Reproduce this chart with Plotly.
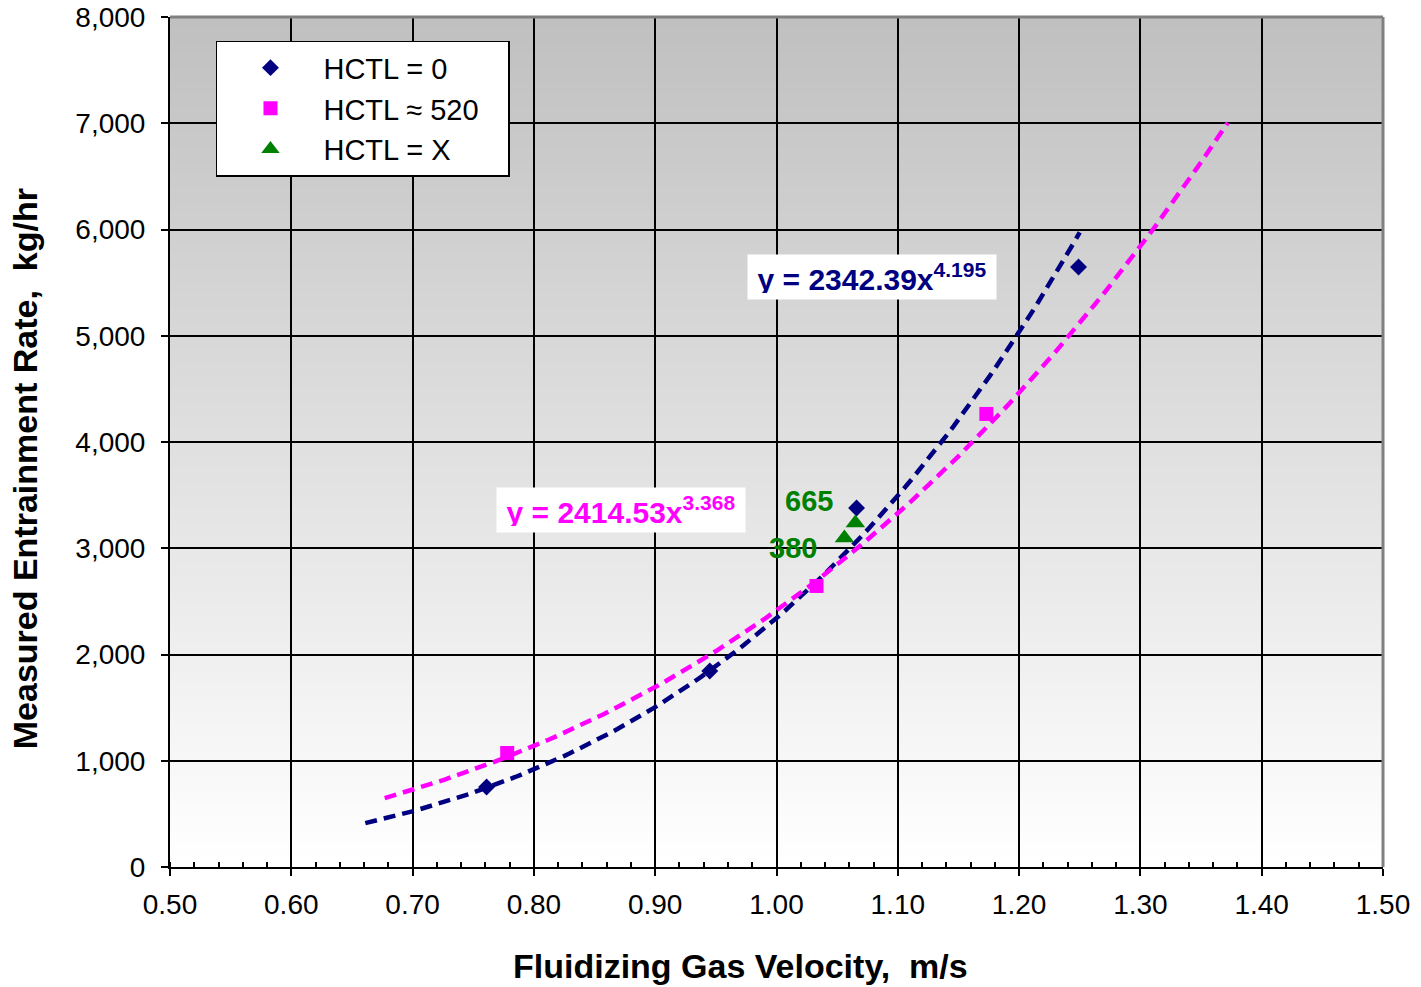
import numpy as np
import plotly.graph_objects as go

# ---- data ----
hctl0_x = [0.761, 0.945, 1.066, 1.249]
hctl0_y = [753, 1845, 3379, 5647]

hctl520_x = [0.778, 1.033, 1.173]
hctl520_y = [1073, 2645, 4264]

hctlx_x = [1.056, 1.065]
hctlx_y = [3096, 3238]
hctlx_labels = ["380", "665"]

# power-law trendlines shown on the chart: y = a * x^b
fit0_a, fit0_b = 2342.39, 4.195
fit0_range = [0.661, 1.250]
fit520_a, fit520_b = 2414.53, 3.368
fit520_range = [0.677, 1.372]

x_ticks = [0.5, 0.6, 0.7, 0.8, 0.9, 1.0, 1.1, 1.2, 1.3, 1.4, 1.5]
y_ticks = [0, 1000, 2000, 3000, 4000, 5000, 6000, 7000, 8000]

x_title = "Fluidizing Gas Velocity,  m/s"
y_title = "Measured Entrainment Rate,  kg/hr"

NAVY = "#000080"
MAGENTA = "#FF00FF"
GREEN = "#008000"
FONT = "Liberation Sans, Arial, sans-serif"
NB = "\u00a0"

fig = go.Figure()

# trendlines
tx0 = np.linspace(fit0_range[0], fit0_range[1], 120)
fig.add_trace(go.Scatter(x=tx0, y=fit0_a * tx0 ** fit0_b, mode="lines",
                         line=dict(color=NAVY, width=4.5, dash="12px,7px"),
                         showlegend=False, hoverinfo="skip"))
tx5 = np.linspace(fit520_range[0], fit520_range[1], 140)
fig.add_trace(go.Scatter(x=tx5, y=fit520_a * tx5 ** fit520_b, mode="lines",
                         line=dict(color=MAGENTA, width=4.5, dash="12px,7px"),
                         showlegend=False, hoverinfo="skip"))

# markers
fig.add_trace(go.Scatter(x=hctl0_x, y=hctl0_y, mode="markers", name="HCTL = 0" + NB * 3,
                         legendgroup="a",
                         marker=dict(symbol="diamond", size=13, color=NAVY)))
fig.add_trace(go.Scatter(x=hctl520_x, y=hctl520_y, mode="markers", name="HCTL \u2248 520" + NB * 3,
                         legendgroup="b",
                         marker=dict(symbol="square", size=14, color=MAGENTA)))
fig.add_trace(go.Scatter(x=hctlx_x, y=hctlx_y, mode="markers", name="HCTL = X" + NB * 3,
                         legendgroup="c",
                         marker=dict(symbol="triangle-up", size=17, color=GREEN)))

# gradient background (grey at top to white at bottom)
shapes = []
N = 170
for i in range(N):
    t = i / (N - 1)
    c = int(round(192 + (255 - 192) * t))
    shapes.append(dict(type="rect", xref="x domain", yref="y domain",
                       x0=0, x1=1, y0=1 - (i + 1) / N, y1=1 - i / N,
                       fillcolor=f"rgb({c},{c},{c})", line=dict(width=0),
                       layer="below"))
# grey frame on top and right
shapes.append(dict(type="line", xref="x domain", yref="y domain", x0=0, x1=1, y0=1, y1=1,
                   line=dict(color="#808080", width=3), layer="above"))
shapes.append(dict(type="line", xref="x domain", yref="y domain", x0=1, x1=1, y0=0, y1=1,
                   line=dict(color="#808080", width=3), layer="above"))

annotations = [
    dict(x=1.0787, y=5553, xref="x", yref="y",
         text=f"y = {fit0_a:.2f}x<sup>{fit0_b}</sup>", showarrow=False,
         font=dict(family=FONT, size=30, color=NAVY, weight="bold"),
         bgcolor="white", borderpad=6, width=236, height=32),
    dict(x=0.8714, y=3360, xref="x", yref="y",
         text=f"y = {fit520_a:.2f}x<sup>{fit520_b}</sup>", showarrow=False,
         font=dict(family=FONT, size=30, color=MAGENTA, weight="bold"),
         bgcolor="white", borderpad=6, width=236, height=32),
    dict(x=1.0136, y=3000, xref="x", yref="y", text=hctlx_labels[0], showarrow=False,
         font=dict(family=FONT, size=29, color=GREEN, weight="bold")),
    dict(x=1.0265, y=3445, xref="x", yref="y", text=hctlx_labels[1], showarrow=False,
         font=dict(family=FONT, size=29, color=GREEN, weight="bold")),
    # axis titles
    dict(x=0.47, y=-0.1165, xref="paper", yref="paper", text=x_title, showarrow=False,
         xanchor="center", yanchor="middle",
         font=dict(family=FONT, size=34, color="black", weight="bold")),
    dict(x=-0.1195, y=0.468, xref="paper", yref="paper", text=y_title, showarrow=False,
         xanchor="center", yanchor="middle", textangle=-90,
         font=dict(family=FONT, size=34, color="black", weight="bold")),
]

fig.update_layout(
    width=1421, height=987,
    margin=dict(l=170, r=38, t=17, b=120),
    paper_bgcolor="white",
    plot_bgcolor="rgba(0,0,0,0)",
    font=dict(family=FONT, color="black"),
    shapes=shapes,
    annotations=annotations,
    legend=dict(x=0.0379, y=0.972, xanchor="left", yanchor="top",
                bgcolor="white", bordercolor="black", borderwidth=1.5,
                font=dict(family=FONT, size=29, color="black"),
                itemwidth=96, tracegroupgap=0),
    showlegend=True,
)

fig.update_xaxes(
    range=[0.5, 1.5], tickvals=x_ticks, ticktext=[f"{v:.2f}" for v in x_ticks],
    showgrid=True, gridcolor="black", gridwidth=2,
    showline=True, linecolor="black", linewidth=2,
    ticks="outside", ticklen=7, tickwidth=2, tickcolor="black",
    minor=dict(ticks="inside", dtick=0.02, tick0=0.5, ticklen=5, tickwidth=1.5,
               tickcolor="black", showgrid=False),
    tickfont=dict(family=FONT, size=28, color="black"),
    ticklabelstandoff=4,
    zeroline=False, automargin=False,
)
fig.update_yaxes(
    range=[0, 8000], tickvals=y_ticks, ticktext=[f"{v:,}" for v in y_ticks],
    showgrid=True, gridcolor="black", gridwidth=2,
    showline=True, linecolor="black", linewidth=2,
    ticks="outside", ticklen=7, tickwidth=2, tickcolor="black",
    tickfont=dict(family=FONT, size=28, color="black"),
    ticklabelstandoff=10,
    zeroline=False, automargin=False,
)

fig.write_html("out.html")
